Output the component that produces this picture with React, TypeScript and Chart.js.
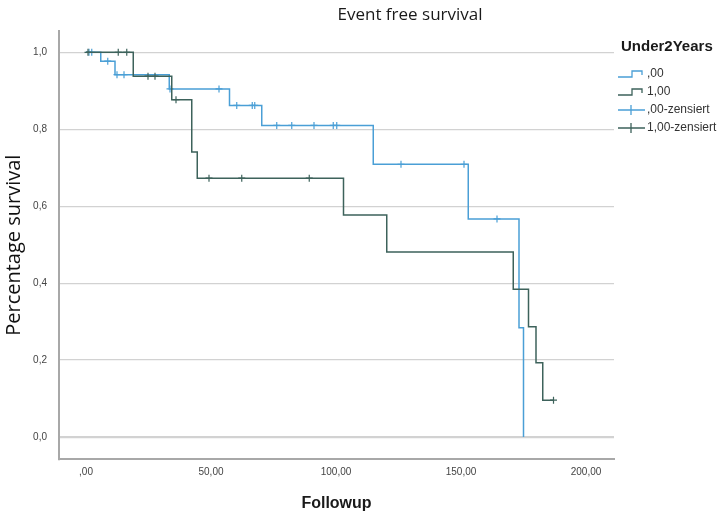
import React, { useEffect, useRef } from "react";
import { Chart, registerables } from "chart.js";

Chart.register(...registerables);

const TITLE = "Event free survival";
const X_TITLE = "Followup";
const Y_TITLE = "Percentage survival";
const LEGEND_TITLE = "Under2Years";
const seriesLabels = [",00", "1,00"];
const censorLabels = [",00-zensiert", "1,00-zensiert"];

// Group ",00": curve step points (time, survival)
const curveTimes0 = [0, 5.9, 11.6, 33.3, 57.4, 70.3, 114.9, 152.9, 173.2, 175.0];
const curveSurv0 = [1.0, 0.977, 0.942, 0.905, 0.862, 0.81, 0.709, 0.567, 0.284, 0.0];
const censorTimes0 = [1.2, 2.3, 8.7, 12.4, 15.2, 33.6, 53.2, 60.3, 66.5, 67.5, 76.3, 82.3, 91.2, 98.9, 100.3, 126.0, 151.2, 164.4];

// Group "1,00": curve step points (time, survival)
const curveTimes1 = [0, 18.9, 34.3, 42.3, 44.5, 103.0, 120.3, 170.9, 177.0, 180.0, 182.7, 187.0];
const curveSurv1 = [1.0, 0.938, 0.877, 0.741, 0.673, 0.577, 0.481, 0.384, 0.287, 0.193, 0.096, 0.096];
const censorTimes1 = [0.8, 12.9, 16.3, 24.8, 27.6, 36.0, 49.2, 62.3, 89.3, 187.0];

const xTickValues = [0, 50, 100, 150, 200];
const xTickLabels = [",00", "50,00", "100,00", "150,00", "200,00"];
const yTickValues = [0, 0.2, 0.4, 0.6, 0.8, 1.0];
const yTickLabels = ["0,0", "0,2", "0,4", "0,6", "0,8", "1,0"];

const BLUE = "#4a9fd6";
const DARK = "#3d625b";

function levelAt(times: number[], surv: number[], t: number): number {
  let s = surv[0];
  for (let i = 0; i < times.length; i++) {
    if (times[i] <= t) s = surv[i];
  }
  return s;
}

function curvePoints(times: number[], surv: number[]) {
  return times.map((t, i) => ({ x: t, y: surv[i] }));
}

function censorPoints(cTimes: number[], times: number[], surv: number[]) {
  return cTimes.map((t) => ({ x: t, y: levelAt(times, surv, t) }));
}

const legendPlugin = {
  id: "kmLegend",
  afterDraw(chart: any) {
    const ctx = chart.ctx as CanvasRenderingContext2D;
    const left = chart.chartArea.right;
    ctx.save();
    ctx.textBaseline = "middle";
    ctx.textAlign = "left";
    ctx.fillStyle = "#1a1a1a";
    ctx.font = "bold 15px 'Liberation Sans', Arial, sans-serif";
    ctx.fillText(LEGEND_TITLE, left + 7, 47);

    const items = [
      { label: seriesLabels[0], color: BLUE, kind: "step" },
      { label: seriesLabels[1], color: DARK, kind: "step" },
      { label: censorLabels[0], color: BLUE, kind: "cross" },
      { label: censorLabels[1], color: DARK, kind: "cross" },
    ];
    items.forEach((it, i) => {
      const y = 74 + i * 18;
      const x0 = left + 4;
      ctx.strokeStyle = it.color;
      ctx.lineWidth = 1.3;
      ctx.beginPath();
      if (it.kind === "step") {
        ctx.moveTo(x0, y + 3);
        ctx.lineTo(x0 + 14, y + 3);
        ctx.lineTo(x0 + 14, y - 3);
        ctx.lineTo(x0 + 24, y - 3);
        ctx.lineTo(x0 + 24, y + 1);
      } else {
        ctx.moveTo(x0, y);
        ctx.lineTo(x0 + 27, y);
        ctx.moveTo(x0 + 13, y - 5);
        ctx.lineTo(x0 + 13, y + 5);
      }
      ctx.stroke();
      ctx.fillStyle = "#333";
      ctx.font = "12px 'Liberation Sans', Arial, sans-serif";
      ctx.fillText(it.label, x0 + 29, y);
    });
    ctx.restore();
  },
};

const titleShiftPlugin = {
  id: "titleShift",
  afterLayout(chart: any) {
    const tb = chart.titleBlock;
    if (tb) {
      tb.left = 100;
      tb.right = 720;
    }
  },
};

export default function App() {
  const ref = useRef<HTMLCanvasElement | null>(null);

  useEffect(() => {
    document.body.style.margin = "0";
    const canvas = ref.current;
    if (!canvas) return;
    const chart = new Chart(canvas, {
      type: "line",
      data: {
        datasets: [
          {
            label: seriesLabels[1],
            data: curvePoints(curveTimes1, curveSurv1),
            borderColor: DARK,
            borderWidth: 1.5,
            stepped: "before",
            pointRadius: 0,
            fill: false,
          },
          {
            label: censorLabels[1],
            data: censorPoints(censorTimes1, curveTimes1, curveSurv1),
            showLine: false,
            pointStyle: "cross",
            pointRadius: 3.5,
            borderColor: DARK,
            backgroundColor: DARK,
            borderWidth: 1.2,
          },
          {
            label: seriesLabels[0],
            data: curvePoints(curveTimes0, curveSurv0),
            borderColor: BLUE,
            borderWidth: 1.5,
            stepped: "before",
            pointRadius: 0,
            fill: false,
          },
          {
            label: censorLabels[0],
            data: censorPoints(censorTimes0, curveTimes0, curveSurv0),
            showLine: false,
            pointStyle: "cross",
            pointRadius: 3.5,
            borderColor: BLUE,
            backgroundColor: BLUE,
            borderWidth: 1.2,
          },
        ],
      },
      options: {
        responsive: false,
        animation: false,
        devicePixelRatio: 1,
        layout: { padding: { left: 0, right: 106, top: 0, bottom: 0 } },
        plugins: {
          legend: { display: false },
          tooltip: { enabled: false },
          title: {
            display: true,
            text: TITLE,
            color: "#1a1a1a",
            font: { family: "'Open Sans', sans-serif", size: 17, weight: "normal" },
            padding: { top: 5, bottom: 6 },
          },
        },
        scales: {
          x: {
            type: "linear",
            min: -10.8,
            max: 211.2,
            afterFit: (s: any) => {
              s.height = 56;
            },
            afterBuildTicks: (s: any) => {
              s.ticks = xTickValues.map((v) => ({ value: v }));
            },
            grid: { display: false, drawTicks: false },
            border: { display: true, color: "#a8a8a8", width: 2 },
            ticks: {
              padding: 7,
              color: "#444",
              font: { family: "'Liberation Sans', Arial, sans-serif", size: 10 },
              callback: (v: any) => xTickLabels[xTickValues.indexOf(Number(v))],
            },
            title: {
              display: true,
              text: X_TITLE,
              color: "#1a1a1a",
              font: { family: "'Liberation Sans', Arial, sans-serif", size: 16, weight: "bold" },
              padding: { top: 0, bottom: 2 },
            },
          },
          y: {
            type: "linear",
            min: -0.057,
            max: 1.0545,
            afterFit: (s: any) => {
              s.width = 59;
            },
            afterBuildTicks: (s: any) => {
              s.ticks = yTickValues.map((v) => ({ value: v }));
            },
            grid: {
              display: true,
              drawTicks: false,
              color: "#d2d2d2",
              lineWidth: (c: any) => (c.tick && c.tick.value === 0 ? 2.2 : 1.3),
            },
            border: { display: true, color: "#a8a8a8", width: 2 },
            ticks: {
              padding: 12,
              color: "#444",
              font: { family: "'Liberation Sans', Arial, sans-serif", size: 10 },
              callback: (v: any) => {
                const idx = yTickValues.findIndex((t) => Math.abs(t - Number(v)) < 1e-6);
                return idx >= 0 ? yTickLabels[idx] : "";
              },
            },
            title: {
              display: true,
              text: Y_TITLE,
              color: "#111",
              font: { family: "'Open Sans', sans-serif", size: 20, weight: "normal" },
              padding: { top: 2, bottom: 0 },
            },
          },
        },
      },
      plugins: [titleShiftPlugin, legendPlugin],
    } as any);
    return () => chart.destroy();
  }, []);

  return (
    <div style={{ width: 720, height: 515, position: "relative", background: "#fff" }}>
      <canvas ref={ref} width={720} height={515} style={{ display: "block", width: 720, height: 515 }} />
    </div>
  );
}
